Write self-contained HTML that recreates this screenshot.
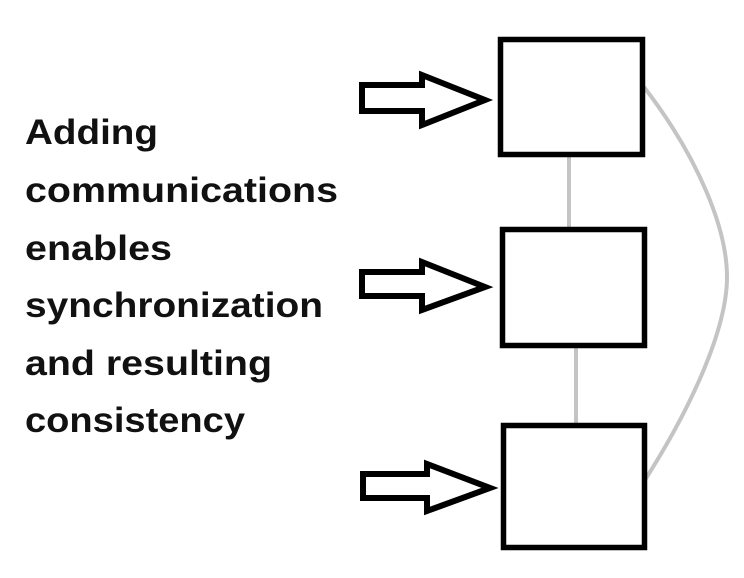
<!DOCTYPE html>
<html><head><meta charset="utf-8"><style>html,body{margin:0;padding:0;background:#fff}svg{display:block}</style></head>
<body>
<svg width="744" height="578" viewBox="0 0 744 578" xmlns="http://www.w3.org/2000/svg">
<rect width="744" height="578" fill="#fff"/>
<g font-family="'Liberation Sans', sans-serif" font-weight="bold" font-size="35" fill="#111">
<text x="25" y="144" textLength="133" lengthAdjust="spacingAndGlyphs">Adding</text>
<text x="25" y="202" textLength="313" lengthAdjust="spacingAndGlyphs">communications</text>
<text x="25" y="260" textLength="147" lengthAdjust="spacingAndGlyphs">enables</text>
<text x="25" y="317" textLength="298" lengthAdjust="spacingAndGlyphs">synchronization</text>
<text x="25" y="375" textLength="247" lengthAdjust="spacingAndGlyphs">and resulting</text>
<text x="25" y="432" textLength="220" lengthAdjust="spacingAndGlyphs">consistency</text>
</g>
<g stroke="#c4c4c4" stroke-width="4" fill="none">
<line x1="569" y1="155" x2="569" y2="229"/>
<line x1="576" y1="346" x2="576" y2="425"/>
<path d="M644 87 C700 160 727 230 727 277 C727 330 690 410 643 483"/>
</g>
<g stroke="#000" stroke-width="5.5" fill="#fff">
<rect x="500.5" y="39.5" width="142" height="115"/>
<rect x="502.5" y="229.5" width="142" height="116"/>
<rect x="503.5" y="425.5" width="141" height="122"/>
</g>
<g stroke="#000" stroke-width="6" fill="#fff" stroke-linejoin="miter">
<path d="M362 85 H422 V75 L485 100 L422 125 V111 H362 Z"/>
<path d="M362 272 H422 V262 L485 287 L422 310 V296 H362 Z"/>
<path d="M363 474 H427 V464 L490 488 L427 511 V498 H363 Z"/>
</g>
</svg>
</body></html>
